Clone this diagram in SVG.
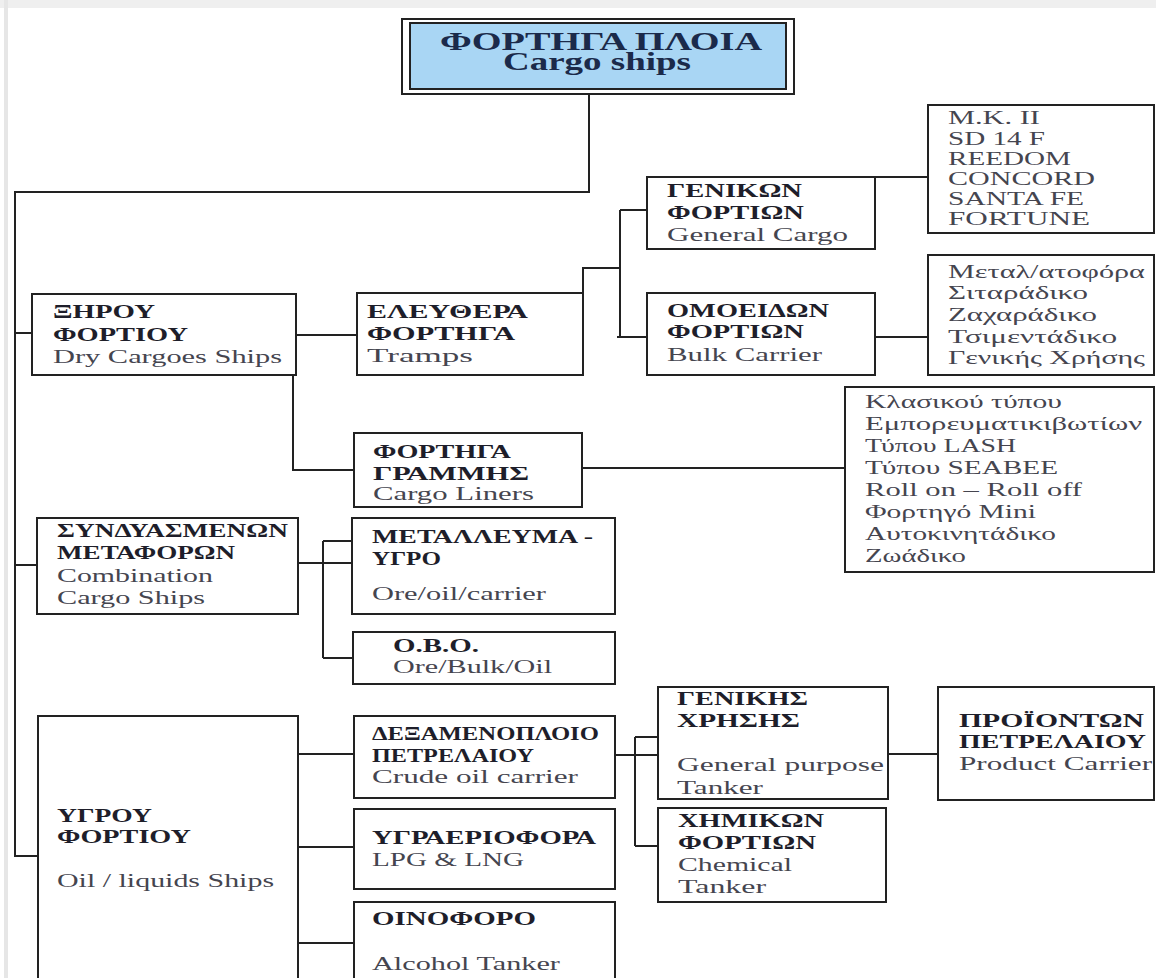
<svg xmlns="http://www.w3.org/2000/svg" width="1156" height="978" viewBox="0 0 1156 978">
  <style>
    .box { fill: #ffffff; stroke: #222222; stroke-width: 2; }
    .b { font-family: "Liberation Serif", "Times New Roman", serif; font-weight: bold; font-size: 18.5px; fill: #1e1e2a; }
    .r { font-family: "Liberation Serif", "Times New Roman", serif; font-size: 19.5px; fill: #45454f; }
    .t { font-family: "Liberation Serif", "Times New Roman", serif; font-weight: bold; font-size: 25px; fill: #1b2a4a; }
    #connectors path { fill: none; stroke: #222222; stroke-width: 2; }
  </style>

  <!-- page background and scan edges -->
  <rect x="0" y="0" width="1156" height="978" fill="#ffffff"/>
  <rect x="0" y="0" width="1156" height="8" fill="#efefef"/>
  <rect x="4" y="0" width="4" height="978" fill="#e6e6e6"/>

  <!-- connectors -->
  <g id="connectors">
    <path d="M589 94 V192 H15 V856 H38"/>
    <path d="M15 333 H32"/>
    <path d="M15 565 H37"/>
    <path d="M296 335 H357"/>
    <path d="M293 375 V470 H354"/>
    <path d="M583 293 V268 H620"/>
    <path d="M620 210 V337"/>
    <path d="M620 210 H647"/>
    <path d="M617 337 H647"/>
    <path d="M875 177 H928"/>
    <path d="M875 337 H928"/>
    <path d="M582 468 H845"/>
    <path d="M295 563 H352"/>
    <path d="M323 541 V658"/>
    <path d="M323 541 H352"/>
    <path d="M323 658 H353"/>
    <path d="M298 754 H354"/>
    <path d="M298 847 H354"/>
    <path d="M298 943 H354"/>
    <path d="M611 755 H658"/>
    <path d="M635 737 V846"/>
    <path d="M635 737 H658"/>
    <path d="M635 846 H658"/>
    <path d="M888 754 H938"/>
  </g>

  <!-- root; all labels are set in a horizontally widened face (x1.5) -->
  <g id="cargo-ships">
    <rect x="402" y="19" width="392" height="75" fill="#ffffff" stroke="#222222" stroke-width="2"/>
    <rect x="410" y="23" width="376" height="66" fill="#a9d6f4" stroke="#222222" stroke-width="2"/>
    <text class="t" transform="matrix(1.5 0 0 1 440 50)" textLength="214.7" lengthAdjust="spacingAndGlyphs">ΦΟΡΤΗΓΑ ΠΛΟΙΑ</text>
    <text class="t" transform="matrix(1.5 0 0 1 503 70)" textLength="125.3" lengthAdjust="spacingAndGlyphs">Cargo ships</text>
  </g>

  <!-- dry cargo -->
  <g id="dry-cargo">
    <rect class="box" x="32" y="294" width="264" height="81"/>
    <text class="b" transform="matrix(1.5 0 0 1 53 318)" textLength="68" lengthAdjust="spacingAndGlyphs">ΞΗΡΟΥ</text>
    <text class="b" transform="matrix(1.5 0 0 1 53 341)" textLength="90" lengthAdjust="spacingAndGlyphs">ΦΟΡΤΙΟΥ</text>
    <text class="r" transform="matrix(1.5 0 0 1 53 363)" textLength="152.7" lengthAdjust="spacingAndGlyphs">Dry Cargoes Ships</text>
  </g>

  <g id="tramps">
    <rect class="box" x="357" y="293" width="226" height="82"/>
    <text class="b" transform="matrix(1.5 0 0 1 367 318)" textLength="107.3" lengthAdjust="spacingAndGlyphs">ΕΛΕΥΘΕΡΑ</text>
    <text class="b" transform="matrix(1.5 0 0 1 367 340)" textLength="98.7" lengthAdjust="spacingAndGlyphs">ΦΟΡΤΗΓΑ</text>
    <text class="r" transform="matrix(1.5 0 0 1 367 362)" textLength="70.7" lengthAdjust="spacingAndGlyphs">Tramps</text>
  </g>

  <g id="general-cargo">
    <rect class="box" x="647" y="177" width="228" height="72"/>
    <text class="b" transform="matrix(1.5 0 0 1 667 197)" textLength="90" lengthAdjust="spacingAndGlyphs">ΓΕΝΙΚΩΝ</text>
    <text class="b" transform="matrix(1.5 0 0 1 667 219)" textLength="91.3" lengthAdjust="spacingAndGlyphs">ΦΟΡΤΙΩΝ</text>
    <text class="r" transform="matrix(1.5 0 0 1 667 241)" textLength="120.7" lengthAdjust="spacingAndGlyphs">General Cargo</text>
  </g>

  <g id="bulk-carrier">
    <rect class="box" x="647" y="293" width="228" height="82"/>
    <text class="b" transform="matrix(1.5 0 0 1 667 317)" textLength="108" lengthAdjust="spacingAndGlyphs">ΟΜΟΕΙΔΩΝ</text>
    <text class="b" transform="matrix(1.5 0 0 1 667 338)" textLength="91.3" lengthAdjust="spacingAndGlyphs">ΦΟΡΤΙΩΝ</text>
    <text class="r" transform="matrix(1.5 0 0 1 667 361)" textLength="103.3" lengthAdjust="spacingAndGlyphs">Bulk Carrier</text>
  </g>

  <g id="general-cargo-types">
    <rect class="box" x="928" y="105" width="226" height="128"/>
    <text class="r" transform="matrix(1.5 0 0 1 948 124)" textLength="61.3" lengthAdjust="spacingAndGlyphs">M.K. II</text>
    <text class="r" transform="matrix(1.5 0 0 1 948 145)" textLength="64.7" lengthAdjust="spacingAndGlyphs">SD 14 F</text>
    <text class="r" transform="matrix(1.5 0 0 1 948 165)" textLength="82" lengthAdjust="spacingAndGlyphs">REEDOM</text>
    <text class="r" transform="matrix(1.5 0 0 1 948 185)" textLength="98" lengthAdjust="spacingAndGlyphs">CONCORD</text>
    <text class="r" transform="matrix(1.5 0 0 1 948 205)" textLength="90.7" lengthAdjust="spacingAndGlyphs">SANTA FE</text>
    <text class="r" transform="matrix(1.5 0 0 1 948 225)" textLength="94.7" lengthAdjust="spacingAndGlyphs">FORTUNE</text>
  </g>

  <g id="bulk-types">
    <rect class="box" x="928" y="255" width="226" height="120"/>
    <text class="r" transform="matrix(1.5 0 0 1 948 278)" textLength="131.3" lengthAdjust="spacingAndGlyphs">Μεταλ/ατοφόρα</text>
    <text class="r" transform="matrix(1.5 0 0 1 948 299)" textLength="93.3" lengthAdjust="spacingAndGlyphs">Σιταράδικο</text>
    <text class="r" transform="matrix(1.5 0 0 1 948 321)" textLength="99.3" lengthAdjust="spacingAndGlyphs">Ζαχαράδικο</text>
    <text class="r" transform="matrix(1.5 0 0 1 948 343)" textLength="112.7" lengthAdjust="spacingAndGlyphs">Τσιμεντάδικο</text>
    <text class="r" transform="matrix(1.5 0 0 1 948 364)" textLength="131.3" lengthAdjust="spacingAndGlyphs">Γενικής Χρήσης</text>
  </g>

  <g id="cargo-liners">
    <rect class="box" x="354" y="433" width="228" height="74"/>
    <text class="b" transform="matrix(1.5 0 0 1 373 458)" textLength="92" lengthAdjust="spacingAndGlyphs">ΦΟΡΤΗΓΑ</text>
    <text class="b" transform="matrix(1.5 0 0 1 373 480)" textLength="104" lengthAdjust="spacingAndGlyphs">ΓΡΑΜΜΗΣ</text>
    <text class="r" transform="matrix(1.5 0 0 1 373 500)" textLength="107.3" lengthAdjust="spacingAndGlyphs">Cargo Liners</text>
  </g>

  <g id="liner-types">
    <rect class="box" x="845" y="387" width="309" height="185"/>
    <text class="r" transform="matrix(1.5 0 0 1 865 408)" textLength="131.3" lengthAdjust="spacingAndGlyphs">Κλασικού τύπου</text>
    <text class="r" transform="matrix(1.5 0 0 1 865 430)" textLength="184.7" lengthAdjust="spacingAndGlyphs">Εμπορευματικιβωτίων</text>
    <text class="r" transform="matrix(1.5 0 0 1 865 452)" textLength="100.7" lengthAdjust="spacingAndGlyphs">Τύπου LASH</text>
    <text class="r" transform="matrix(1.5 0 0 1 865 474)" textLength="128.7" lengthAdjust="spacingAndGlyphs">Τύπου SEABEE</text>
    <text class="r" transform="matrix(1.5 0 0 1 865 496)" textLength="144.7" lengthAdjust="spacingAndGlyphs">Roll on – Roll off</text>
    <text class="r" transform="matrix(1.5 0 0 1 865 518)" textLength="114" lengthAdjust="spacingAndGlyphs">Φορτηγό Mini</text>
    <text class="r" transform="matrix(1.5 0 0 1 865 540)" textLength="127.3" lengthAdjust="spacingAndGlyphs">Αυτοκινητάδικο</text>
    <text class="r" transform="matrix(1.5 0 0 1 865 562)" textLength="67.3" lengthAdjust="spacingAndGlyphs">Ζωάδικο</text>
  </g>

  <!-- combination -->
  <g id="combination">
    <rect class="box" x="37" y="518" width="261" height="96"/>
    <text class="b" transform="matrix(1.5 0 0 1 57 537)" textLength="154" lengthAdjust="spacingAndGlyphs">ΣΥΝΔΥΑΣΜΕΝΩΝ</text>
    <text class="b" transform="matrix(1.5 0 0 1 57 559)" textLength="118.7" lengthAdjust="spacingAndGlyphs">ΜΕΤΑΦΟΡΩΝ</text>
    <text class="r" transform="matrix(1.5 0 0 1 57 582)" textLength="104" lengthAdjust="spacingAndGlyphs">Combination</text>
    <text class="r" transform="matrix(1.5 0 0 1 57 604)" textLength="98.7" lengthAdjust="spacingAndGlyphs">Cargo Ships</text>
  </g>

  <g id="ore-oil">
    <rect class="box" x="352" y="518" width="263" height="96"/>
    <text class="b" transform="matrix(1.5 0 0 1 372 543)" textLength="147.3" lengthAdjust="spacingAndGlyphs">ΜΕΤΑΛΛΕΥΜΑ -</text>
    <text class="b" transform="matrix(1.5 0 0 1 372 565)" textLength="46" lengthAdjust="spacingAndGlyphs">ΥΓΡΟ</text>
    <text class="r" transform="matrix(1.5 0 0 1 372 600)" textLength="116" lengthAdjust="spacingAndGlyphs">Ore/oil/carrier</text>
  </g>

  <g id="obo">
    <rect class="box" x="353" y="632" width="262" height="52"/>
    <text class="b" transform="matrix(1.5 0 0 1 393 652)" textLength="57.3" lengthAdjust="spacingAndGlyphs">O.B.O.</text>
    <text class="r" transform="matrix(1.5 0 0 1 393 673)" textLength="106" lengthAdjust="spacingAndGlyphs">Ore/Bulk/Oil</text>
  </g>

  <!-- liquid cargo -->
  <g id="liquid-cargo">
    <rect class="box" x="38" y="716" width="260" height="280"/>
    <text class="b" transform="matrix(1.5 0 0 1 57 822)" textLength="63.3" lengthAdjust="spacingAndGlyphs">ΥΓΡΟΥ</text>
    <text class="b" transform="matrix(1.5 0 0 1 57 843)" textLength="89.3" lengthAdjust="spacingAndGlyphs">ΦΟΡΤΙΟΥ</text>
    <text class="r" transform="matrix(1.5 0 0 1 57 887)" textLength="144.7" lengthAdjust="spacingAndGlyphs">Oil / liquids Ships</text>
  </g>

  <g id="crude-oil">
    <rect class="box" x="354" y="716" width="261" height="82"/>
    <text class="b" transform="matrix(1.5 0 0 1 372 740)" textLength="151.3" lengthAdjust="spacingAndGlyphs">ΔΕΞΑΜΕΝΟΠΛΟΙΟ</text>
    <text class="b" transform="matrix(1.5 0 0 1 372 762)" textLength="108" lengthAdjust="spacingAndGlyphs">ΠΕΤΡΕΛΑΙΟΥ</text>
    <text class="r" transform="matrix(1.5 0 0 1 372 783)" textLength="137.3" lengthAdjust="spacingAndGlyphs">Crude oil carrier</text>
  </g>

  <g id="lpg-lng">
    <rect class="box" x="354" y="809" width="261" height="80"/>
    <text class="b" transform="matrix(1.5 0 0 1 372 844)" textLength="149.3" lengthAdjust="spacingAndGlyphs">ΥΓΡΑΕΡΙΟΦΟΡΑ</text>
    <text class="r" transform="matrix(1.5 0 0 1 372 866)" textLength="101.3" lengthAdjust="spacingAndGlyphs">LPG &amp; LNG</text>
  </g>

  <g id="alcohol">
    <rect class="box" x="354" y="902" width="261" height="94"/>
    <text class="b" transform="matrix(1.5 0 0 1 372 925)" textLength="109.3" lengthAdjust="spacingAndGlyphs">ΟΙΝΟΦΟΡΟ</text>
    <text class="r" transform="matrix(1.5 0 0 1 372 970)" textLength="125.3" lengthAdjust="spacingAndGlyphs">Alcohol Tanker</text>
  </g>

  <g id="general-purpose">
    <rect class="box" x="658" y="687" width="230" height="112"/>
    <text class="b" transform="matrix(1.5 0 0 1 677 705)" textLength="87.3" lengthAdjust="spacingAndGlyphs">ΓΕΝΙΚΗΣ</text>
    <text class="b" transform="matrix(1.5 0 0 1 677 727)" textLength="82" lengthAdjust="spacingAndGlyphs">ΧΡΗΣΗΣ</text>
    <text class="r" transform="matrix(1.5 0 0 1 677 771)" textLength="138" lengthAdjust="spacingAndGlyphs">General purpose</text>
    <text class="r" transform="matrix(1.5 0 0 1 677 794)" textLength="57.3" lengthAdjust="spacingAndGlyphs">Tanker</text>
  </g>

  <g id="chemical">
    <rect class="box" x="658" y="808" width="228" height="94"/>
    <text class="b" transform="matrix(1.5 0 0 1 678 827)" textLength="97.3" lengthAdjust="spacingAndGlyphs">ΧΗΜΙΚΩΝ</text>
    <text class="b" transform="matrix(1.5 0 0 1 678 849)" textLength="92" lengthAdjust="spacingAndGlyphs">ΦΟΡΤΙΩΝ</text>
    <text class="r" transform="matrix(1.5 0 0 1 678 871)" textLength="76" lengthAdjust="spacingAndGlyphs">Chemical</text>
    <text class="r" transform="matrix(1.5 0 0 1 678 893)" textLength="58.7" lengthAdjust="spacingAndGlyphs">Tanker</text>
  </g>

  <g id="product-carrier">
    <rect class="box" x="938" y="687" width="216" height="113"/>
    <text class="b" transform="matrix(1.5 0 0 1 959 727)" textLength="123.3" lengthAdjust="spacingAndGlyphs">ΠΡΟΪΟΝΤΩΝ</text>
    <text class="b" transform="matrix(1.5 0 0 1 959 748)" textLength="124.7" lengthAdjust="spacingAndGlyphs">ΠΕΤΡΕΛΑΙΟΥ</text>
    <text class="r" transform="matrix(1.5 0 0 1 959 770)" textLength="128.7" lengthAdjust="spacingAndGlyphs">Product Carrier</text>
  </g>
</svg>
